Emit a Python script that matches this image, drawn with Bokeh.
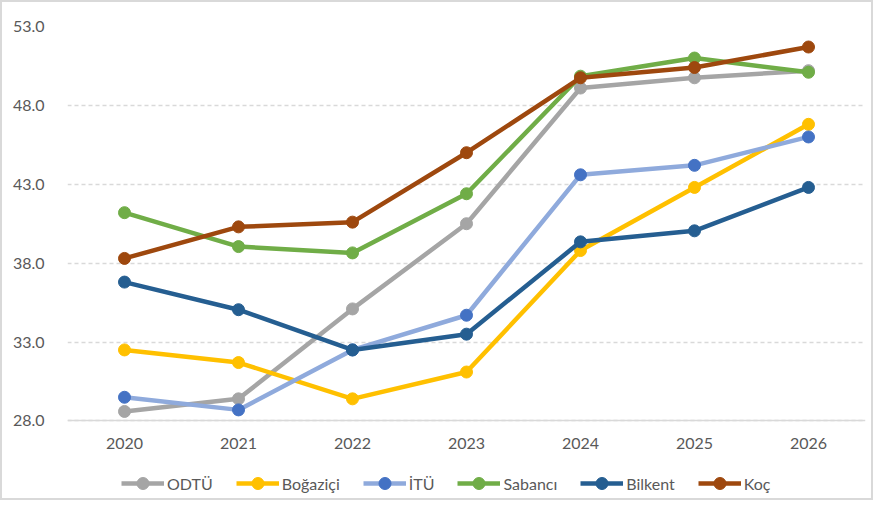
from bokeh.plotting import figure
from bokeh.models import FactorRange, Range1d, FixedTicker, Legend, LegendItem, NumeralTickFormatter
from bokeh.embed import file_html
from bokeh.resources import INLINE

years = ["2020", "2021", "2022", "2023", "2024", "2025", "2026"]
odtu = [28.6, 29.4, 35.1, 40.5, 49.1, 49.75, 50.2]
bogazici = [32.5, 31.7, 29.4, 31.1, 38.8, 42.8, 46.8]
itu = [29.5, 28.7, 32.5, 34.7, 43.6, 44.2, 46.0]
sabanci = [41.2, 39.05, 38.65, 42.4, 49.85, 51.0, 50.1]
bilkent = [36.8, 35.05, 32.5, 33.5, 39.35, 40.05, 42.8]
koc = [38.3, 40.3, 40.6, 45.0, 49.75, 50.4, 51.7]
y_ticks = [28, 33, 38, 43, 48, 53]

series = [
    ("ODTÜ", odtu, "#a5a5a5", "#a5a5a5"),
    ("Boğaziçi", bogazici, "#ffc000", "#ffc000"),
    ("İTÜ", itu, "#8faadc", "#4472c4"),
    ("Sabancı", sabanci, "#70ad47", "#70ad47"),
    ("Bilkent", bilkent, "#255e91", "#255e91"),
    ("Koç", koc, "#9e480e", "#9e480e"),
]

FONT = "Lato"

# frame extends below the value axis so the legend can sit inside it
p = figure(width=873, height=500, x_range=FactorRange(*years), y_range=Range1d(22.83, 53),
           output_backend="svg", toolbar_location=None,
           min_border_left=65, min_border_right=10, min_border_top=24, min_border_bottom=0)
p.outline_line_color = None
p.background_fill_color = "white"
p.border_fill_color = "white"
p.styles = {"border": "2px solid #d9d9d9"}

p.xgrid.grid_line_color = None
p.ygrid.grid_line_color = "#d9d9d9"
p.ygrid.grid_line_dash = "4 3"
p.ygrid.grid_line_width = 1.3

p.yaxis.ticker = FixedTicker(ticks=y_ticks)
p.yaxis.formatter = NumeralTickFormatter(format="0.0")
p.yaxis.axis_line_color = None
p.yaxis.major_tick_line_color = None
p.yaxis.minor_tick_line_color = None
p.yaxis.major_label_standoff = 17

p.xaxis.fixed_location = 28
p.xaxis.axis_line_color = "#d9d9d9"
p.xaxis.axis_line_width = 1.5
p.xaxis.major_tick_line_color = None
p.xaxis.minor_tick_line_color = None
p.xaxis.major_label_standoff = 11

for ax in (p.xaxis[0], p.yaxis[0]):
    ax.major_label_text_font = FONT
    ax.major_label_text_font_size = "16px"
    ax.major_label_text_color = "#595959"

items = []
for name, vals, lc, mc in series:
    r1 = p.line(years, vals, line_color=lc, line_width=4.5)
    r2 = p.scatter(years, vals, size=12, fill_color=mc, line_color=mc)
    items.append(LegendItem(label=name, renderers=[r1, r2]))

legend = Legend(items=items, orientation="horizontal", location=(54, 4),
                glyph_width=43, glyph_height=30, label_standoff=3, spacing=23,
                label_text_font=FONT, label_text_font_size="16px", label_text_color="#595959",
                border_line_color=None, background_fill_alpha=0, padding=0, margin=0)
p.add_layout(legend, "center")

open("out.html", "w").write(file_html(p, INLINE))
